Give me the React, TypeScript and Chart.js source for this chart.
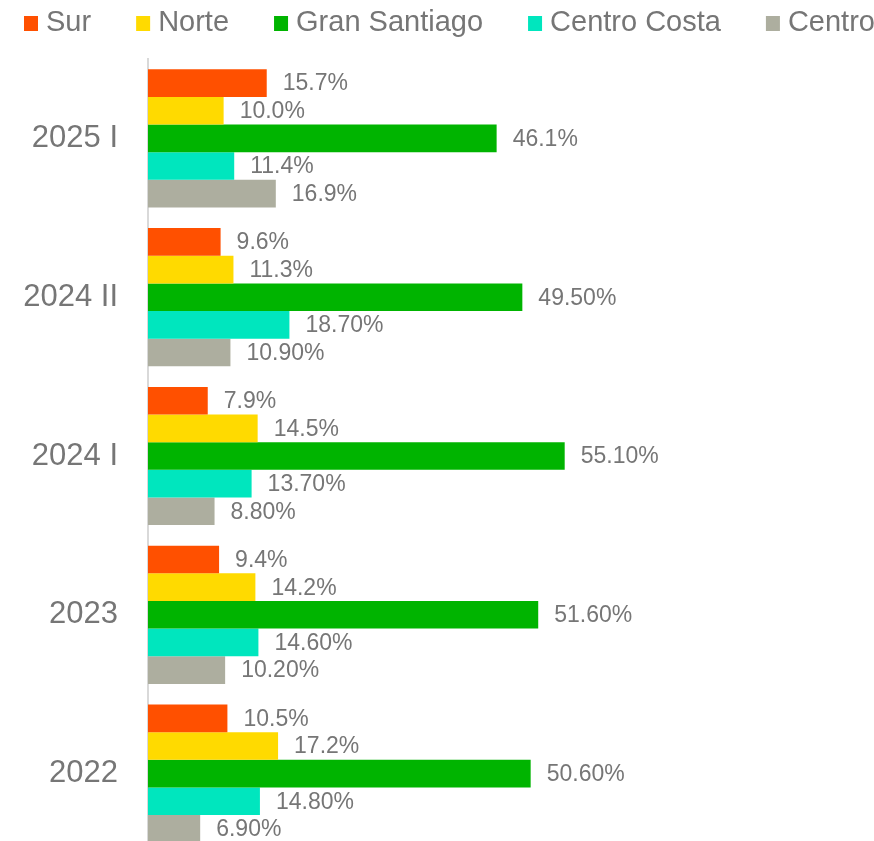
import React, { useEffect, useRef } from "react";
import { Chart, registerables } from "chart.js";

Chart.register(...registerables);

const categories = ["2025 I", "2024 II", "2024 I", "2023", "2022"];
const seriesNames = ["Sur", "Norte", "Gran Santiago", "Centro Costa", "Centro"];
const seriesColors = ["#FF5000", "#FFDA00", "#00B400", "#00E6BE", "#ADAE9F"];

const surValues = [15.7, 9.6, 7.9, 9.4, 10.5];
const norteValues = [10.0, 11.3, 14.5, 14.2, 17.2];
const granSantiagoValues = [46.1, 49.5, 55.1, 51.6, 50.6];
const centroCostaValues = [11.4, 18.7, 13.7, 14.6, 14.8];
const centroValues = [16.9, 10.9, 8.8, 10.2, 6.9];

const surLabels = ["15.7%", "9.6%", "7.9%", "9.4%", "10.5%"];
const norteLabels = ["10.0%", "11.3%", "14.5%", "14.2%", "17.2%"];
const granSantiagoLabels = ["46.1%", "49.50%", "55.10%", "51.60%", "50.60%"];
const centroCostaLabels = ["11.4%", "18.70%", "13.70%", "14.60%", "14.80%"];
const centroLabels = ["16.9%", "10.90%", "8.80%", "10.20%", "6.90%"];

const allValues = [surValues, norteValues, granSantiagoValues, centroCostaValues, centroValues];
const allLabels = [surLabels, norteLabels, granSantiagoLabels, centroCostaLabels, centroLabels];

const TEXT_COLOR = "#767676";
const FONT = "'Liberation Sans', Arial, sans-serif";

const dataLabelPlugin = {
  id: "dataLabels",
  afterDatasetsDraw(chart: any) {
    const ctx = chart.ctx;
    ctx.save();
    ctx.font = `23px ${FONT}`;
    ctx.fillStyle = TEXT_COLOR;
    ctx.textAlign = "left";
    ctx.textBaseline = "middle";
    chart.data.datasets.forEach((ds: any, di: number) => {
      const meta = chart.getDatasetMeta(di);
      meta.data.forEach((el: any, i: number) => {
        ctx.fillText(allLabels[di][i], el.x + 16, el.y + 1);
      });
    });
    ctx.restore();
  },
};

const customLegendPlugin = {
  id: "customLegend",
  afterDraw(chart: any) {
    const ctx = chart.ctx;
    ctx.save();
    ctx.font = `29px ${FONT}`;
    ctx.textAlign = "left";
    ctx.textBaseline = "middle";
    let x = 24;
    const cy = 23;
    chart.data.datasets.forEach((ds: any) => {
      ctx.fillStyle = ds.backgroundColor;
      ctx.fillRect(x, cy - 7, 14, 15);
      x += 14 + 8;
      ctx.fillStyle = TEXT_COLOR;
      ctx.fillText(ds.label, x, cy);
      x += ctx.measureText(ds.label).width + 45;
    });
    ctx.restore();
  },
};

export default function App() {
  const canvasRef = useRef<HTMLCanvasElement | null>(null);

  useEffect(() => {
    if (!canvasRef.current) return;
    const chart = new Chart(canvasRef.current, {
      type: "bar",
      data: {
        labels: categories,
        datasets: seriesNames.map((name, i) => ({
          label: name,
          data: allValues[i],
          backgroundColor: seriesColors[i],
          borderWidth: 0,
          barPercentage: 1,
          categoryPercentage: 0.87,
        })),
      },
      options: {
        indexAxis: "y",
        responsive: false,
        maintainAspectRatio: false,
        animation: false,
        layout: { padding: { top: 59, bottom: 0, left: 0, right: 0 } },
        plugins: {
          legend: { display: false },
          tooltip: { enabled: false },
        },
        scales: {
          x: {
            display: false,
            min: 0,
            max: 96,
          },
          y: {
            type: "category",
            grid: { display: false, drawTicks: false },
            border: { display: true, color: "#D9D9D9", width: 2 },
            ticks: {
              color: TEXT_COLOR,
              font: { size: 31, family: FONT },
              padding: 30,
            },
            afterFit(scale: any) {
              scale.width = 148;
              scale.paddingTop = 0;
              scale.paddingBottom = 0;
            },
          },
        },
      },
      plugins: [dataLabelPlugin, customLegendPlugin],
    });
    return () => chart.destroy();
  }, []);

  return (
    <div style={{ position: "fixed", top: 0, left: 0, width: 874, height: 853, background: "#fff", overflow: "hidden" }}>
      <canvas ref={canvasRef} width={874} height={853} style={{ display: "block", width: 874, height: 853 }} />
    </div>
  );
}
